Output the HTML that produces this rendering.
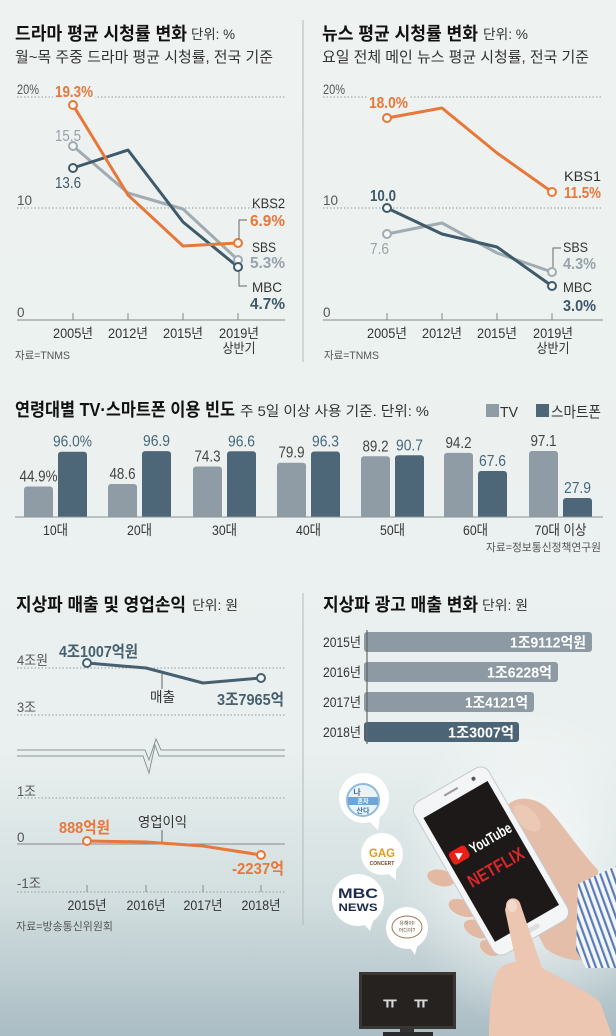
<!DOCTYPE html>
<html><head><meta charset="utf-8">
<style>
html,body{margin:0;padding:0;}
body{width:616px;height:1036px;overflow:hidden;background:#eef3f1;}
svg{display:block;font-family:"Liberation Sans","Noto Sans CJK KR",sans-serif;}
</style></head><body>
<svg width="616" height="1036" viewBox="0 0 616 1036" xmlns="http://www.w3.org/2000/svg">
<defs>
<linearGradient id="bg" x1="0" y1="0" x2="0" y2="1">
 <stop offset="0" stop-color="#eef3f1"/>
 <stop offset="0.72" stop-color="#eaf0ef"/>
 <stop offset="0.87" stop-color="#d2dedf"/>
 <stop offset="1" stop-color="#aabdc4"/>
</linearGradient>
<radialGradient id="glow" cx="0.5" cy="0.5" r="0.5">
 <stop offset="0" stop-color="#ffffff" stop-opacity="0.85"/>
 <stop offset="1" stop-color="#ffffff" stop-opacity="0"/>
</radialGradient>
<clipPath id="bc"><rect x="0" y="0" width="616" height="517"/></clipPath>
<pattern id="stripes" width="6" height="6" patternUnits="userSpaceOnUse" patternTransform="rotate(-20)">
 <rect width="6" height="6" fill="#f2f5f9"/>
 <rect width="2.2" height="6" fill="#5a7db5"/>
</pattern>
</defs>
<rect width="616" height="1036" fill="url(#bg)"/>
<ellipse cx="530" cy="870" rx="135" ry="160" fill="url(#glow)"/>

<!-- dividers -->
<line x1="303" y1="20" x2="303" y2="362" stroke="#b3baba" stroke-width="1"/>
<line x1="303" y1="593" x2="303" y2="925" stroke="#b3baba" stroke-width="1"/>

<!-- ===== LEFT TOP CHART ===== -->
<text x="15" y="40" font-size="18" font-weight="bold" fill="#111" textLength="172" lengthAdjust="spacingAndGlyphs">드라마 평균 시청률 변화</text>
<text x="191" y="39" font-size="13.5" fill="#333" textLength="44" lengthAdjust="spacingAndGlyphs">단위: %</text>
<text x="15" y="62" font-size="15" fill="#333" textLength="258" lengthAdjust="spacingAndGlyphs">월~목 주중 드라마 평균 시청률, 전국 기준</text>

<g stroke="#8f9c9c" stroke-width="1" stroke-dasharray="1.5 2">
 <line x1="17" y1="97" x2="285" y2="97"/>
 <line x1="17" y1="208" x2="285" y2="208"/>
</g>
<line x1="17" y1="320" x2="285" y2="320" stroke="#888" stroke-width="1"/>
<g stroke="#888" stroke-width="1">
 <line x1="73" y1="313" x2="73" y2="320"/><line x1="128" y1="313" x2="128" y2="320"/>
 <line x1="183" y1="313" x2="183" y2="320"/><line x1="238" y1="313" x2="238" y2="320"/>
</g>
<g font-size="13.5" fill="#555">
 <text x="17" y="94" textLength="22" lengthAdjust="spacingAndGlyphs">20%</text>
 <text x="17" y="205">10</text>
 <text x="17" y="317">0</text>
</g>
<g font-size="13.5" fill="#333" text-anchor="middle">
 <text x="73" y="338" textLength="40" lengthAdjust="spacingAndGlyphs">2005년</text>
 <text x="128" y="338" textLength="40" lengthAdjust="spacingAndGlyphs">2012년</text>
 <text x="183" y="338" textLength="40" lengthAdjust="spacingAndGlyphs">2015년</text>
 <text x="239" y="338" textLength="40" lengthAdjust="spacingAndGlyphs">2019년</text>
 <text x="239" y="353" textLength="33" lengthAdjust="spacingAndGlyphs">상반기</text>
</g>
<text x="15" y="359" font-size="11" fill="#555" textLength="55" lengthAdjust="spacingAndGlyphs">자료=TNMS</text>

<g fill="none" stroke-width="3" stroke-linejoin="round" stroke-linecap="round">
 <polyline points="73,146 128,193 183,209 238,260" stroke="#a0abb2"/>
 <polyline points="73,168 128,150 183,222 238,267" stroke="#3f5a6a"/>
 <polyline points="73,105 128,195 183,246 238,243" stroke="#e8773a"/>
</g>
<g stroke-width="2" fill="#f4f7f6">
 <circle cx="73" cy="146" r="4" stroke="#a0abb2"/>
 <circle cx="238" cy="260" r="4" stroke="#a0abb2"/>
 <circle cx="73" cy="168" r="4" stroke="#3f5a6a"/>
 <circle cx="238" cy="267" r="4" stroke="#3f5a6a"/>
 <circle cx="73" cy="105" r="4" stroke="#e8773a"/>
 <circle cx="238" cy="243" r="4" stroke="#e8773a"/>
</g>
<g fill="none" stroke="#666" stroke-width="1">
 <polyline points="239,239 239,220 247,220"/>
 <polyline points="239,271 239,286 247,286"/>
</g>
<rect x="53" y="84" width="42" height="15" fill="#eef3f1"/>
<g font-size="16">
 <text x="55" y="97" fill="#e8773a" font-weight="bold" textLength="38" lengthAdjust="spacingAndGlyphs">19.3%</text>
 <text x="55" y="141" fill="#97a2aa" textLength="26" lengthAdjust="spacingAndGlyphs">15.5</text>
 <text x="55" y="188" fill="#3e5868" textLength="26" lengthAdjust="spacingAndGlyphs">13.6</text>
 <text x="252" y="208" font-size="14" fill="#333" textLength="33" lengthAdjust="spacingAndGlyphs">KBS2</text>
 <text x="250" y="226" fill="#e8773a" font-weight="bold" textLength="35" lengthAdjust="spacingAndGlyphs">6.9%</text>
 <text x="252" y="252" font-size="14" fill="#333" textLength="24" lengthAdjust="spacingAndGlyphs">SBS</text>
 <text x="250" y="268" fill="#97a2aa" font-weight="bold" textLength="35" lengthAdjust="spacingAndGlyphs">5.3%</text>
 <text x="252" y="292" font-size="14" fill="#333" textLength="30" lengthAdjust="spacingAndGlyphs">MBC</text>
 <text x="250" y="309" fill="#3e5868" font-weight="bold" textLength="35" lengthAdjust="spacingAndGlyphs">4.7%</text>
</g>

<!-- ===== RIGHT TOP CHART ===== -->
<text x="322" y="40" font-size="18" font-weight="bold" fill="#111" textLength="156" lengthAdjust="spacingAndGlyphs">뉴스 평균 시청률 변화</text>
<text x="483" y="39" font-size="13.5" fill="#333" textLength="45" lengthAdjust="spacingAndGlyphs">단위: %</text>
<text x="322" y="62" font-size="15" fill="#333" textLength="267" lengthAdjust="spacingAndGlyphs">요일 전체 메인 뉴스 평균 시청률, 전국 기준</text>

<g stroke="#8f9c9c" stroke-width="1" stroke-dasharray="1.5 2">
 <line x1="323" y1="97" x2="603" y2="97"/>
 <line x1="323" y1="208" x2="603" y2="208"/>
</g>
<line x1="323" y1="320" x2="603" y2="320" stroke="#888" stroke-width="1"/>
<g stroke="#888" stroke-width="1">
 <line x1="387" y1="313" x2="387" y2="320"/><line x1="442" y1="313" x2="442" y2="320"/>
 <line x1="497" y1="313" x2="497" y2="320"/><line x1="552" y1="313" x2="552" y2="320"/>
</g>
<g font-size="13.5" fill="#555">
 <text x="323" y="94" textLength="22" lengthAdjust="spacingAndGlyphs">20%</text>
 <text x="323" y="205">10</text>
 <text x="323" y="317">0</text>
</g>
<g font-size="13.5" fill="#333" text-anchor="middle">
 <text x="387" y="338" textLength="40" lengthAdjust="spacingAndGlyphs">2005년</text>
 <text x="442" y="338" textLength="40" lengthAdjust="spacingAndGlyphs">2012년</text>
 <text x="497" y="338" textLength="40" lengthAdjust="spacingAndGlyphs">2015년</text>
 <text x="553" y="338" textLength="40" lengthAdjust="spacingAndGlyphs">2019년</text>
 <text x="553" y="353" textLength="33" lengthAdjust="spacingAndGlyphs">상반기</text>
</g>
<text x="324" y="359" font-size="11" fill="#555" textLength="55" lengthAdjust="spacingAndGlyphs">자료=TNMS</text>

<g fill="none" stroke-width="3" stroke-linejoin="round" stroke-linecap="round">
 <polyline points="387,234 442,223 497,253 552,272" stroke="#a0abb2"/>
 <polyline points="387,208 442,234 497,247 552,286" stroke="#3f5a6a"/>
 <polyline points="387,118 442,108 497,153 552,192" stroke="#e8773a"/>
</g>
<g stroke-width="2" fill="#f4f7f6">
 <circle cx="387" cy="234" r="4" stroke="#a0abb2"/>
 <circle cx="552" cy="272" r="4" stroke="#a0abb2"/>
 <circle cx="387" cy="208" r="4" stroke="#3f5a6a"/>
 <circle cx="552" cy="286" r="4" stroke="#3f5a6a"/>
 <circle cx="387" cy="118" r="4" stroke="#e8773a"/>
 <circle cx="552" cy="192" r="4" stroke="#e8773a"/>
</g>
<polyline points="553,267 553,248 561,248" fill="none" stroke="#666" stroke-width="1"/>
<rect x="367" y="94" width="43" height="4" fill="#eef3f1"/>
<g font-size="16">
 <text x="369" y="108" fill="#e8773a" font-weight="bold" textLength="39" lengthAdjust="spacingAndGlyphs">18.0%</text>
 <text x="370" y="201" fill="#3e5868" font-weight="bold" textLength="26" lengthAdjust="spacingAndGlyphs">10.0</text>
 <text x="370" y="254" fill="#97a2aa" textLength="19" lengthAdjust="spacingAndGlyphs">7.6</text>
 <text x="564" y="181" font-size="14" fill="#333" textLength="37" lengthAdjust="spacingAndGlyphs">KBS1</text>
 <text x="564" y="198" fill="#e8773a" font-weight="bold" textLength="37" lengthAdjust="spacingAndGlyphs">11.5%</text>
 <text x="563" y="252" font-size="14" fill="#333" textLength="25" lengthAdjust="spacingAndGlyphs">SBS</text>
 <text x="563" y="269" fill="#97a2aa" font-weight="bold" textLength="33" lengthAdjust="spacingAndGlyphs">4.3%</text>
 <text x="563" y="292" font-size="14" fill="#333" textLength="29" lengthAdjust="spacingAndGlyphs">MBC</text>
 <text x="563" y="311" fill="#3e5868" font-weight="bold" textLength="33" lengthAdjust="spacingAndGlyphs">3.0%</text>
</g>

<!-- ===== BAR CHART ===== -->
<text x="15" y="416" font-size="18" font-weight="bold" fill="#111" textLength="220" lengthAdjust="spacingAndGlyphs">연령대별 TV·스마트폰 이용 빈도</text>
<text x="240" y="416" font-size="14" fill="#333" textLength="189" lengthAdjust="spacingAndGlyphs">주 5일 이상 사용 기준. 단위: %</text>
<rect x="486" y="404" width="13" height="13" fill="#8f9ca5"/>
<text x="500" y="417" font-size="15" fill="#333" textLength="18" lengthAdjust="spacingAndGlyphs">TV</text>
<rect x="536" y="404" width="13" height="13" fill="#4e6778"/>
<text x="551" y="417" font-size="15" fill="#333" textLength="50" lengthAdjust="spacingAndGlyphs">스마트폰</text>

<g clip-path="url(#bc)">
 <g fill="#8f9ca5">
  <rect x="24" y="486.5" width="29" height="40" rx="3"/>
  <rect x="108" y="484" width="29" height="40" rx="3"/>
  <rect x="193" y="466.5" width="29" height="60" rx="3"/>
  <rect x="277" y="462.7" width="29" height="60" rx="3"/>
  <rect x="361" y="456.3" width="29" height="70" rx="3"/>
  <rect x="444" y="452.9" width="29" height="70" rx="3"/>
  <rect x="529" y="451" width="29" height="70" rx="3"/>
 </g>
 <g fill="#4e6778">
  <rect x="58" y="451.7" width="29" height="70" rx="3"/>
  <rect x="142" y="451.1" width="29" height="70" rx="3"/>
  <rect x="227" y="451.3" width="29" height="70" rx="3"/>
  <rect x="311" y="451.5" width="29" height="70" rx="3"/>
  <rect x="395" y="455.3" width="29" height="70" rx="3"/>
  <rect x="478" y="471" width="29" height="60" rx="3"/>
  <rect x="563" y="498" width="29" height="30" rx="3"/>
 </g>
</g>
<line x1="15" y1="517" x2="603" y2="517" stroke="#8a9595" stroke-width="1"/>
<g font-size="16" text-anchor="middle" fill="#444">
 <text x="38.5" y="481.5" textLength="38" lengthAdjust="spacingAndGlyphs">44.9%</text>
 <text x="122.5" y="479" textLength="26" lengthAdjust="spacingAndGlyphs">48.6</text>
 <text x="207.5" y="461.5" textLength="26" lengthAdjust="spacingAndGlyphs">74.3</text>
 <text x="291.5" y="457.7" textLength="26" lengthAdjust="spacingAndGlyphs">79.9</text>
 <text x="375.5" y="451.3" textLength="26" lengthAdjust="spacingAndGlyphs">89.2</text>
 <text x="458.5" y="447.9" textLength="26" lengthAdjust="spacingAndGlyphs">94.2</text>
 <text x="543.5" y="446" textLength="26" lengthAdjust="spacingAndGlyphs">97.1</text>
</g>
<g font-size="16" text-anchor="middle" fill="#46677c">
 <text x="72.5" y="446.7" textLength="39" lengthAdjust="spacingAndGlyphs">96.0%</text>
 <text x="156.5" y="446.1" textLength="27" lengthAdjust="spacingAndGlyphs">96.9</text>
 <text x="241.5" y="446.3" textLength="27" lengthAdjust="spacingAndGlyphs">96.6</text>
 <text x="325.5" y="446.5" textLength="27" lengthAdjust="spacingAndGlyphs">96.3</text>
 <text x="409.5" y="450.3" textLength="27" lengthAdjust="spacingAndGlyphs">90.7</text>
 <text x="492.5" y="466" textLength="27" lengthAdjust="spacingAndGlyphs">67.6</text>
 <text x="577.5" y="493" textLength="27" lengthAdjust="spacingAndGlyphs">27.9</text>
</g>
<g font-size="14" text-anchor="middle" fill="#333">
 <text x="55.5" y="535" textLength="25" lengthAdjust="spacingAndGlyphs">10대</text>
 <text x="139.5" y="535" textLength="25" lengthAdjust="spacingAndGlyphs">20대</text>
 <text x="224.5" y="535" textLength="25" lengthAdjust="spacingAndGlyphs">30대</text>
 <text x="308.5" y="535" textLength="25" lengthAdjust="spacingAndGlyphs">40대</text>
 <text x="392.5" y="535" textLength="25" lengthAdjust="spacingAndGlyphs">50대</text>
 <text x="475.5" y="535" textLength="25" lengthAdjust="spacingAndGlyphs">60대</text>
 <text x="560.5" y="535" textLength="52" lengthAdjust="spacingAndGlyphs">70대 이상</text>
</g>
<text x="601" y="551" font-size="11" fill="#555" text-anchor="end" textLength="115" lengthAdjust="spacingAndGlyphs">자료=정보통신정책연구원</text>

<!-- ===== BOTTOM LEFT ===== -->
<text x="16" y="611" font-size="18" font-weight="bold" fill="#111" textLength="170" lengthAdjust="spacingAndGlyphs">지상파 매출 및 영업손익</text>
<text x="192" y="610" font-size="13.5" fill="#333" textLength="46" lengthAdjust="spacingAndGlyphs">단위: 원</text>

<g stroke="#8f9c9c" stroke-width="1" stroke-dasharray="1.5 2">
 <line x1="17" y1="668" x2="285" y2="668"/>
 <line x1="17" y1="715" x2="285" y2="715"/>
 <line x1="17" y1="798" x2="285" y2="798"/>
 <line x1="17" y1="892" x2="285" y2="892"/>
</g>
<line x1="17" y1="844" x2="285" y2="844" stroke="#888" stroke-width="1"/>
<g fill="none" stroke="#8a9595" stroke-width="1">
 <polyline points="17,750 145,750 149,760 156,739 161,750 285,750"/>
 <polyline points="17,756 143,756 149,773 155,745 159,756 285,756"/>
</g>
<g stroke="#888" stroke-width="1">
 <line x1="87" y1="885" x2="87" y2="892"/><line x1="146" y1="885" x2="146" y2="892"/>
 <line x1="203" y1="885" x2="203" y2="892"/><line x1="261" y1="885" x2="261" y2="892"/>
</g>
<g font-size="13.5" fill="#555">
 <text x="17" y="665" textLength="31" lengthAdjust="spacingAndGlyphs">4조원</text>
 <text x="17" y="712" textLength="19" lengthAdjust="spacingAndGlyphs">3조</text>
 <text x="17" y="796" textLength="19" lengthAdjust="spacingAndGlyphs">1조</text>
 <text x="17" y="842">0</text>
 <text x="17" y="888" textLength="24" lengthAdjust="spacingAndGlyphs">-1조</text>
</g>
<g font-size="13.5" fill="#333" text-anchor="middle">
 <text x="87" y="910" textLength="39" lengthAdjust="spacingAndGlyphs">2015년</text>
 <text x="146" y="910" textLength="39" lengthAdjust="spacingAndGlyphs">2016년</text>
 <text x="203" y="910" textLength="39" lengthAdjust="spacingAndGlyphs">2017년</text>
 <text x="261" y="910" textLength="39" lengthAdjust="spacingAndGlyphs">2018년</text>
</g>
<text x="16" y="930" font-size="11" fill="#555" textLength="97" lengthAdjust="spacingAndGlyphs">자료=방송통신위원회</text>

<g stroke="#666" stroke-width="1">
 <line x1="162" y1="672" x2="162" y2="689"/>
 <line x1="162" y1="830" x2="162" y2="843"/>
</g>
<g fill="none" stroke-width="3" stroke-linejoin="round" stroke-linecap="round">
 <polyline points="87,663 146,668 203,683 261,678" stroke="#46606f"/>
 <polyline points="87,841 146,842 203,846 261,855" stroke="#e8773a"/>
</g>
<g stroke-width="2" fill="#f4f7f6">
 <circle cx="87" cy="663" r="4" stroke="#46606f"/>
 <circle cx="261" cy="678" r="4" stroke="#46606f"/>
 <circle cx="87" cy="841" r="4" stroke="#e8773a"/>
 <circle cx="261" cy="855" r="4" stroke="#e8773a"/>
</g>
<g font-size="16" font-weight="bold">
 <text x="59" y="657" fill="#46606f" textLength="79" lengthAdjust="spacingAndGlyphs">4조1007억원</text>
 <text x="217" y="705" fill="#46606f" textLength="67" lengthAdjust="spacingAndGlyphs">3조7965억</text>
 <text x="59" y="833" fill="#e8773a" textLength="51" lengthAdjust="spacingAndGlyphs">888억원</text>
 <text x="232" y="874" fill="#e8773a" textLength="52" lengthAdjust="spacingAndGlyphs">-2237억</text>
</g>
<g font-size="14" fill="#333">
 <text x="150" y="702" textLength="25" lengthAdjust="spacingAndGlyphs">매출</text>
 <text x="138" y="827" textLength="49" lengthAdjust="spacingAndGlyphs">영업이익</text>
</g>

<!-- ===== BOTTOM RIGHT ===== -->
<text x="323" y="611" font-size="18" font-weight="bold" fill="#111" textLength="155" lengthAdjust="spacingAndGlyphs">지상파 광고 매출 변화</text>
<text x="482" y="610" font-size="13.5" fill="#333" textLength="46" lengthAdjust="spacingAndGlyphs">단위: 원</text>
<g>
 <rect x="364" y="632" width="228" height="20" rx="3" fill="#8d9aa3"/>
 <rect x="364" y="662" width="194" height="20" rx="3" fill="#8d9aa3"/>
 <rect x="364" y="692" width="170" height="20" rx="3" fill="#8d9aa3"/>
 <rect x="364" y="722" width="155" height="20" rx="3" fill="#4b6577"/>
</g>
<line x1="367" y1="630" x2="367" y2="744" stroke="#666" stroke-width="1.2"/>
<g font-size="13.5" fill="#333">
 <text x="323" y="647" textLength="38" lengthAdjust="spacingAndGlyphs">2015년</text>
 <text x="323" y="677" textLength="38" lengthAdjust="spacingAndGlyphs">2016년</text>
 <text x="323" y="707" textLength="38" lengthAdjust="spacingAndGlyphs">2017년</text>
 <text x="323" y="737" textLength="38" lengthAdjust="spacingAndGlyphs">2018년</text>
</g>
<g font-size="15" font-weight="bold" fill="#fff" text-anchor="end">
 <text x="586" y="647.5" textLength="76" lengthAdjust="spacingAndGlyphs">1조9112억원</text>
 <text x="552" y="677.5" textLength="65" lengthAdjust="spacingAndGlyphs">1조6228억</text>
 <text x="528" y="707.5" textLength="63" lengthAdjust="spacingAndGlyphs">1조4121억</text>
 <text x="514" y="737.5" textLength="66" lengthAdjust="spacingAndGlyphs">1조3007억</text>
</g>

<!-- ===== ILLUSTRATION ===== -->
<!-- bubbles -->
<g fill="#ffffff">
 <circle cx="364" cy="798" r="25"/><polygon points="368,820 378,830 380,816"/>
 <circle cx="382" cy="854" r="21"/><polygon points="386,872 396,880 396,866"/>
 <circle cx="358" cy="900" r="26"/><polygon points="362,922 370,931 374,918"/>
 <circle cx="407" cy="928" r="21"/><polygon points="408,945 415,955 418,943"/>
</g>
<circle cx="363" cy="800" r="16" fill="#eaf3fa" stroke="#8fbbe0" stroke-width="2"/>
<text x="357" y="795" font-size="8" font-weight="bold" fill="#3a6fa0" text-anchor="middle">나</text>
<rect x="348" y="797" width="30" height="8" fill="#6ea6d6"/>
<text x="363" y="803.5" font-size="6" font-weight="bold" fill="#fff" text-anchor="middle">혼자</text>
<text x="363" y="813" font-size="7" font-weight="bold" fill="#3a6fa0" text-anchor="middle">산다</text>
<text x="382" y="857" font-size="12" font-weight="bold" fill="#e29a1e" text-anchor="middle" textLength="26" lengthAdjust="spacingAndGlyphs">GAG</text>
<text x="382" y="865" font-size="5" font-weight="bold" fill="#7a4a1a" text-anchor="middle">CONCERT</text>
<text x="358" y="898" font-size="14" font-weight="bold" fill="#1d2a4a" text-anchor="middle" textLength="40" lengthAdjust="spacingAndGlyphs">MBC</text>
<text x="358" y="911" font-size="11" font-weight="bold" fill="#1d2a4a" text-anchor="middle" textLength="39" lengthAdjust="spacingAndGlyphs">NEWS</text>
<ellipse cx="407" cy="927" rx="15" ry="11" fill="none" stroke="#9a7a50" stroke-width="1"/>
<text x="407" y="925" font-size="5" fill="#5a4a30" text-anchor="middle">유해야!</text>
<text x="407" y="932" font-size="5" fill="#5a4a30" text-anchor="middle">어디야?</text>

<!-- TV -->
<rect x="359" y="972" width="97" height="57" fill="#3a3634"/>
<rect x="362" y="975" width="91" height="51" fill="#262220"/>
<rect x="400" y="1029" width="14" height="4" fill="#333"/>
<rect x="383" y="1032" width="50" height="4" fill="#2a2a2a"/>
<text x="390" y="1008" font-size="16" font-weight="bold" fill="#d8d8d8" text-anchor="middle">ㅠ</text>
<text x="421" y="1008" font-size="16" font-weight="bold" fill="#d8d8d8" text-anchor="middle">ㅠ</text>

<!-- holding hand (behind phone) -->
<path d="M506,808 C512,797 530,795 545,806 C560,820 575,845 598,870 L600,955 C585,965 560,960 545,948 L520,900 Z" fill="#e4bea8"/>
<polygon points="578,884 616,866 616,968 586,968 576,950" fill="url(#stripes)"/>
<!-- left fingertips -->
<g fill="#e3b9a3">
 <ellipse cx="441" cy="878" rx="14" ry="8" transform="rotate(15 441 878)"/>
 <ellipse cx="463" cy="908" rx="15" ry="8" transform="rotate(20 463 908)"/>
 <ellipse cx="477" cy="929" rx="14" ry="8" transform="rotate(25 477 929)"/>
 <ellipse cx="490" cy="948" rx="11" ry="7" transform="rotate(30 490 948)"/>
</g>

<!-- phone -->
<g transform="translate(491,861) rotate(-30)">
 <rect x="-43" y="-88" width="86" height="176" rx="10" fill="#f3f5f6" stroke="#c5cacd" stroke-width="1"/>
 <rect x="-37" y="-71" width="74" height="143" fill="#1d1918"/>
 <rect x="-8" y="-81" width="16" height="2" rx="1" fill="#999"/>
 <circle cx="26" cy="-80" r="2" fill="#555"/>
 <rect x="-10" y="77" width="20" height="5" rx="2.5" fill="#dde0e2"/>
 <rect x="-34" y="-28" width="19" height="14" rx="3.5" fill="#e62117"/>
 <polygon points="-27.5,-25 -27.5,-17 -20.5,-21" fill="#fff"/>
 <text x="-12" y="-15" font-size="15" font-weight="bold" fill="#fff" textLength="46" lengthAdjust="spacingAndGlyphs">YouTube</text>
 <text x="1" y="14" font-size="18" font-weight="bold" fill="#d8262b" text-anchor="middle" textLength="62" lengthAdjust="spacingAndGlyphs">NETFLIX</text>
</g>
<!-- thumb over phone -->
<ellipse cx="527" cy="818" rx="17" ry="9" transform="rotate(45 527 818)" fill="#ecc9b4"/>

<!-- pointing hand -->
<path d="M506,906 C506,897 517,896 520,903 L542,968 C560,978 585,990 600,1002 L612,1036 L489,1036 C489,1015 491,990 497,972 C502,965 510,962 516,962 L505,910 Z" fill="#ecc6b0"/>
<ellipse cx="512" cy="906" rx="5" ry="6" fill="#f3d9ca"/>
</svg>
</body></html>
